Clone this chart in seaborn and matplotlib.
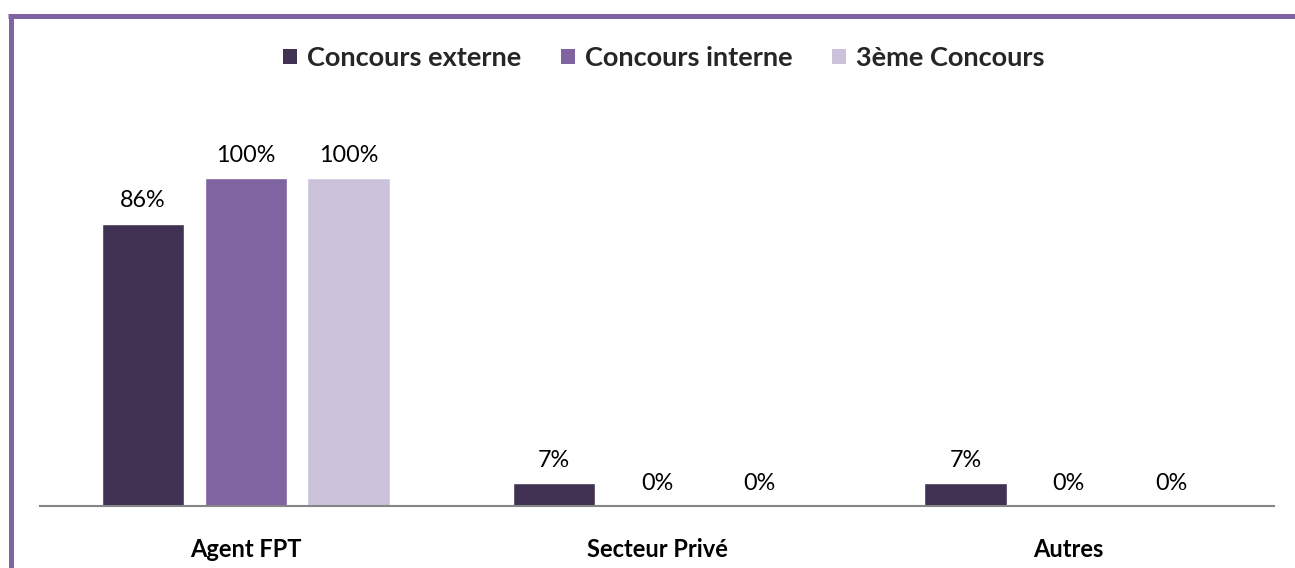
import matplotlib
matplotlib.use("Agg")
import matplotlib.pyplot as plt
import seaborn as sns
import pandas as pd
from matplotlib.lines import Line2D
from matplotlib.patches import Patch

categories = ["Agent FPT", "Secteur Privé", "Autres"]
series = ["Concours externe", "Concours interne", "3ème Concours"]
externe = [86, 7, 7]
interne = [100, 0, 0]
troisieme = [100, 0, 0]
colors = ["#413152", "#8064A2", "#CCC1DA"]

rows = []
for s, vals in zip(series, [externe, interne, troisieme]):
    for c, v in zip(categories, vals):
        rows.append({"cat": c, "serie": s, "val": v})
df = pd.DataFrame(rows)

sns.set_theme(style="white")
plt.rcParams["font.family"] = ["Lato", "DejaVu Sans"]

W, H = 1295, 568
fig = plt.figure(figsize=(W / 100, H / 100), dpi=100)
ax = fig.add_axes([40 / W, 62 / H, 1234 / W, 393.6 / H])
sns.barplot(data=df, x="cat", y="val", hue="serie", order=categories,
            hue_order=series, palette=colors, width=0.75, gap=0.2,
            saturation=1, errorbar=None, legend=False, ax=ax)

ax.set_xlim(-0.5, 2.5)
ax.set_ylim(0, 120)
ax.set_xlabel("")
ax.set_ylabel("")
ax.set_yticks([])
for sp in ["top", "left", "right"]:
    ax.spines[sp].set_visible(False)
ax.spines["bottom"].set_color("#868686")
ax.spines["bottom"].set_linewidth(1.5)
ax.tick_params(axis="x", length=0, pad=23)
for lab in ax.get_xticklabels():
    lab.set_fontweight("bold")
    lab.set_fontsize(17)
    lab.set_color("black")

for cont in ax.containers:
    ax.bar_label(cont, labels=[f"{v:.0f}%" for v in cont.datavalues],
                 padding=9, fontsize=16.8, color="black")

handles = [Patch(facecolor=c, edgecolor="none", label=s) for c, s in zip(colors, series)]
fig.legend(handles=handles, loc="center", bbox_to_anchor=(664 / W, 1 - 58 / H),
           ncol=3, frameon=False, prop={"weight": "bold", "size": 19.5},
           handlelength=0.52, handleheight=0.52, handletextpad=0.37,
           columnspacing=1.45)

purple = "#8064A2"
fig.add_artist(Line2D([10.5 / W, 10.5 / W], [0, 1 - 15.5 / H], color=purple,
                      lw=3.6, solid_capstyle="butt"))
fig.add_artist(Line2D([8 / W, 1], [1 - 15.5 / H, 1 - 15.5 / H], color=purple,
                      lw=3.6, solid_capstyle="butt"))

fig.savefig("out.png", dpi=100)
